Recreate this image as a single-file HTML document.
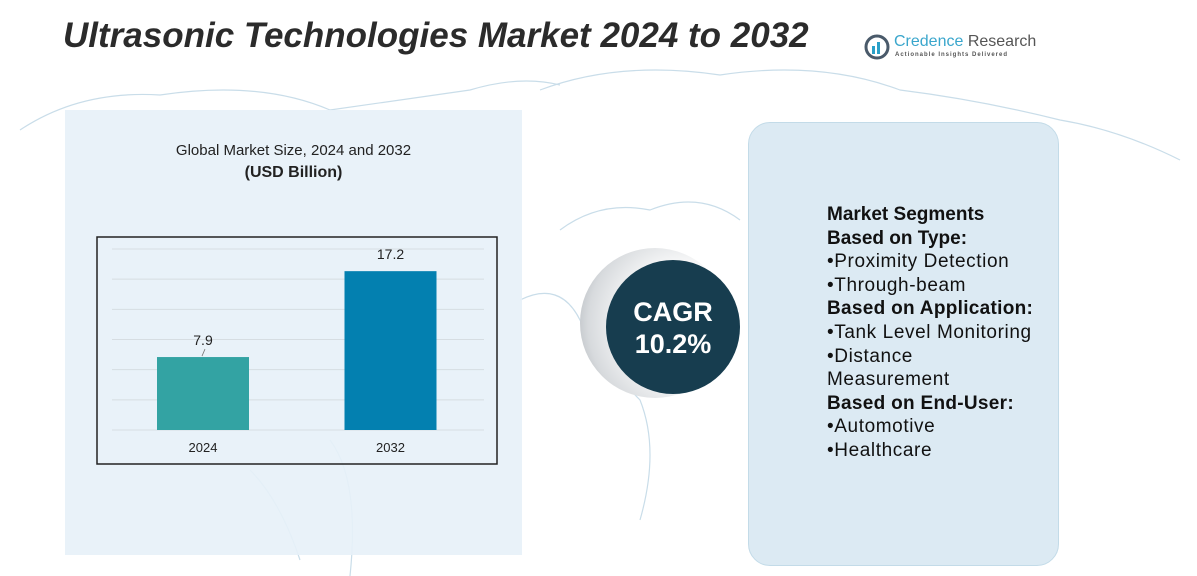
<!DOCTYPE html>
<html><head><meta charset="utf-8"><style>
body{margin:0;width:1197px;height:576px;overflow:hidden;background:#fff;font-family:"Liberation Sans",sans-serif;position:relative}
.abs{position:absolute}
</style></head><body>
<svg class="abs" style="left:0;top:0" width="1197" height="576">
<g fill="none" stroke="#c9dde9" stroke-width="1.2">
<path d="M20 130 Q80 90 160 95 Q260 80 330 110 Q400 100 470 90 Q520 75 560 85"/>
<path d="M540 90 Q620 60 720 75 Q820 60 900 90 Q980 100 1060 120 Q1120 130 1180 160"/>
<path d="M560 230 Q600 200 650 210 Q700 190 740 220 M520 300 Q560 280 580 320 Q600 360 640 400 Q660 450 640 520"/>
<path d="M250 470 Q280 500 300 560 M330 440 Q360 480 350 576"/>
</g></svg>
<div class="abs" style="left:65px;top:110px;width:457px;height:445px;background:#e7f1f8;opacity:.9"></div>
<div class="abs" style="left:748px;top:122px;width:309px;height:442px;background:#dceaf3;border:1.5px solid #c3dbe8;border-radius:22px"></div>
<div class="abs" style="left:63px;top:16px;font-size:35px;font-weight:bold;font-style:italic;color:#2b2b2b">Ultrasonic Technologies Market 2024 to 2032</div>
<div class="abs" style="left:864px;top:32px;width:175px;height:30px">
<svg width="26" height="26" class="abs" style="left:0;top:2px"><circle cx="13" cy="13" r="11" fill="none" stroke="#4a5a6a" stroke-width="3"/><rect x="8" y="12" width="3" height="8" fill="#2aa0c8"/><rect x="13" y="8" width="3" height="12" fill="#2aa0c8"/></svg>
<div class="abs" style="left:30px;top:1px;font-size:16px;color:#3aa6cc;white-space:nowrap">Credence <span style="color:#555">Research</span></div>
<div class="abs" style="left:31px;top:20px;font-size:6px;letter-spacing:1px;color:#555;white-space:nowrap;font-weight:bold">Actionable Insights Delivered</div>
</div>
<div class="abs" style="left:65px;width:457px;top:142px;text-align:center;font-size:15px;color:#222">Global Market Size, 2024 and 2032</div>
<div class="abs" style="left:65px;width:457px;top:164px;text-align:center;font-size:16px;font-weight:bold;color:#222">(USD Billion)</div>
<svg class="abs" style="left:0;top:0" width="1197" height="576" id="chart">
<rect x="97" y="237" width="400" height="227" fill="none" stroke="#222" stroke-width="1.5"/>
</svg>
<div class="abs" style="left:580px;top:248px;width:170px;height:160px">
<div class="abs" style="left:0;top:0;width:150px;height:150px;border-radius:50%;background:radial-gradient(circle at 70% 50%,#fff 40%,#d7dadd 75%,#9ea4aa 100%)"></div>
<div class="abs" style="left:26px;top:12px;width:134px;height:134px;border-radius:50%;background:#173d4f;color:#fff;text-align:center;font-weight:bold;font-size:27px;line-height:32px;padding-top:36px;box-sizing:border-box">CAGR<br>10.2%</div>
</div>
<div class="abs" style="left:827px;top:203px;font-size:19px;line-height:23.6px;color:#111;letter-spacing:0.6px">
<div style="font-weight:bold;letter-spacing:0">Market Segments</div>
<div style="font-weight:bold;letter-spacing:0">Based on Type:</div>
<div>•Proximity Detection</div>
<div>•Through-beam</div>
<div style="font-weight:bold;letter-spacing:0.3px">Based on Application:</div>
<div>•Tank Level Monitoring</div>
<div>•Distance<br>Measurement</div>
<div style="font-weight:bold;letter-spacing:0.3px">Based on End-User:</div>
<div>•Automotive</div>
<div>•Healthcare</div>
</div>
<script>
const categories=["2024","2032"];
const values=[7.9,17.2];
const labels=["7.9","17.2"];
const gridCount=6;
const yMax=19.6;
const svg=document.getElementById('chart');
const NS='http://www.w3.org/2000/svg';
const base=430,top0=249,left=112,right=484;
function y(v){return base-(base-top0)*v/yMax;}
function x(i){return 203+187.5*i;}
for(let g=0;g<=gridCount;g++){
 const l=document.createElementNS(NS,'line');
 const yy=base-(base-top0)*g/gridCount;
 l.setAttribute('x1',left);l.setAttribute('x2',right);l.setAttribute('y1',yy);l.setAttribute('y2',yy);
 l.setAttribute('stroke','#d6dde2');l.setAttribute('stroke-width','1');
 
 
 svg.appendChild(l);
}
const colors=["#33a3a3","#0380b0"];
values.forEach((v,i)=>{
 const r=document.createElementNS(NS,'rect');
 r.setAttribute('x',x(i)-46);r.setAttribute('width',92);
 r.setAttribute('y',y(v));r.setAttribute('height',base-y(v));r.setAttribute('fill',colors[i]);
 
 
 svg.appendChild(r);
 const t=document.createElementNS(NS,'text');
 t.setAttribute('x',x(i));t.setAttribute('y',y(v)-12);t.setAttribute('text-anchor','middle');
 t.setAttribute('font-size','14');t.setAttribute('fill','#222');t.setAttribute('font-family','Liberation Sans');
 t.textContent=labels[i];
 
 
 svg.appendChild(t);
 if(i===0){
  const ld=document.createElementNS(NS,'line');
  ld.setAttribute('x1',x(i)-1);ld.setAttribute('y1',y(v)-1);ld.setAttribute('x2',x(i)+2);ld.setAttribute('y2',y(v)-8);
  ld.setAttribute('stroke','#777');ld.setAttribute('stroke-width','0.8');
  
  
  svg.appendChild(ld);
 }
 const c=document.createElementNS(NS,'text');
 c.setAttribute('x',x(i));c.setAttribute('y',452);c.setAttribute('text-anchor','middle');
 c.setAttribute('font-size','13');c.setAttribute('fill','#222');c.setAttribute('font-family','Liberation Sans');
 c.textContent=categories[i];
 
 
 svg.appendChild(c);
});
</script>
</body></html>
